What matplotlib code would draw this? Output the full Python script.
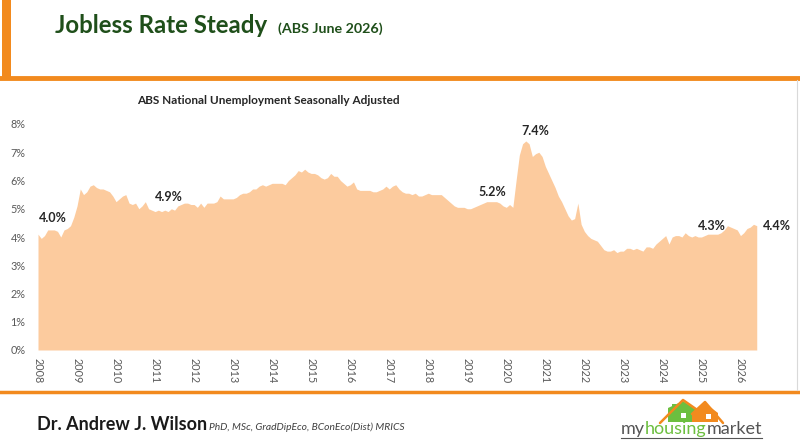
import matplotlib
matplotlib.use('Agg')
import matplotlib.pyplot as plt
import numpy as np
from matplotlib.patches import Rectangle, Polygon
from matplotlib.lines import Line2D

plt.rcParams['font.family'] = ['Lato', 'DejaVu Sans']

# Monthly unemployment rate (%), seasonally adjusted, Jan 2008 - Jun 2026
rate_2008 = [4.1, 3.95, 4.05, 4.25, 4.25, 4.25, 4.2, 4.0, 4.25, 4.3, 4.4, 4.7]
rate_2009 = [5.1, 5.7, 5.5, 5.6, 5.8, 5.85, 5.75, 5.7, 5.7, 5.65, 5.6, 5.45]
rate_2010 = [5.25, 5.35, 5.45, 5.5, 5.2, 5.15, 5.2, 5.0, 5.1, 5.25, 5.0, 4.95]
rate_2011 = [4.9, 4.95, 4.9, 4.95, 4.9, 5.0, 4.95, 5.1, 5.15, 5.2, 5.2, 5.15]
rate_2012 = [5.15, 5.05, 5.2, 5.05, 5.2, 5.2, 5.2, 5.25, 5.45, 5.35, 5.35, 5.35]
rate_2013 = [5.35, 5.4, 5.5, 5.55, 5.55, 5.6, 5.7, 5.7, 5.8, 5.85, 5.8, 5.85]
rate_2014 = [5.9, 5.9, 5.9, 5.9, 5.85, 6.0, 6.1, 6.2, 6.35, 6.3, 6.4, 6.3]
rate_2015 = [6.25, 6.25, 6.2, 6.1, 6.05, 6.1, 6.25, 6.15, 6.15, 6.0, 5.9, 5.8]
rate_2016 = [5.85, 5.95, 5.7, 5.65, 5.65, 5.65, 5.65, 5.6, 5.6, 5.65, 5.7, 5.8]
rate_2017 = [5.7, 5.8, 5.85, 5.7, 5.6, 5.55, 5.55, 5.5, 5.55, 5.45, 5.45, 5.5]
rate_2018 = [5.55, 5.5, 5.5, 5.5, 5.5, 5.4, 5.3, 5.2, 5.1, 5.05, 5.05, 5.05]
rate_2019 = [5.0, 5.0, 5.05, 5.1, 5.15, 5.2, 5.25, 5.25, 5.25, 5.25, 5.2, 5.1]
rate_2020 = [5.05, 5.15, 5.05, 6.0, 6.9, 7.3, 7.4, 7.3, 6.85, 6.95, 7.0, 6.85]
rate_2021 = [6.5, 6.25, 6.0, 5.75, 5.45, 5.25, 5.0, 4.75, 4.6, 4.65, 5.2, 4.45]
rate_2022 = [4.2, 4.05, 3.95, 3.9, 3.85, 3.7, 3.55, 3.5, 3.5, 3.55, 3.45, 3.5]
rate_2023 = [3.5, 3.6, 3.6, 3.55, 3.6, 3.55, 3.5, 3.65, 3.65, 3.6, 3.75, 3.85]
rate_2024 = [3.95, 4.05, 3.75, 4.0, 4.05, 4.05, 4.0, 4.15, 4.05, 4.0, 4.05, 4.0]
rate_2025 = [4.0, 4.05, 4.1, 4.1, 4.1, 4.1, 4.15, 4.25, 4.4, 4.35, 4.3, 4.25]
rate_2026 = [4.05, 4.15, 4.3, 4.35, 4.45, 4.4]

years = list(range(2008, 2027))
year_labels = [str(y) for y in years]

# call-out labels and where they sit (data coords)
callouts = ['4.0%', '4.9%', '5.2%', '7.4%', '4.3%', '4.4%']
callout_x = [2008.38, 2011.35, 2019.65, 2020.75, 2025.26, 2026.92]
callout_y = [4.67, 5.42, 5.59, 7.75, 4.39, 4.39]

rate = (rate_2008 + rate_2009 + rate_2010 + rate_2011 + rate_2012 + rate_2013
        + rate_2014 + rate_2015 + rate_2016 + rate_2017 + rate_2018 + rate_2019
        + rate_2020 + rate_2021 + rate_2022 + rate_2023 + rate_2024 + rate_2025
        + rate_2026)
t = 2008 + np.arange(len(rate)) / 12

W, H = 800, 443
fig = plt.figure(figsize=(W / 100, H / 100), dpi=100)
fig.patch.set_facecolor('white')

def fx(x):
    return x / W

def fy(y):
    return 1 - y / H

orange = '#F28A1E'
green_dark = '#1F4F1A'
logo_green = '#6CBF3F'

# frame decorations
fig.add_artist(Rectangle((fx(2), fy(78)), fx(9), 78 / H, color=orange, lw=0))
fig.add_artist(Line2D([0, 1], [fy(78), fy(78)], color=orange, lw=3.5))
fig.add_artist(Line2D([0, 1], [fy(392), fy(392)], color=orange, lw=2.5))
fig.add_artist(Line2D([fx(797), fx(797)], [fy(80), fy(390)], color='#D9D9D9', lw=0.8))

# titles
fig.text(fx(55), fy(33), 'Jobless Rate Steady', fontsize=17.3, fontweight='bold',
         color=green_dark, va='baseline')
fig.text(fx(278), fy(33), '(ABS June 2026)', fontsize=10.3, fontweight='bold',
         color=green_dark, va='baseline')
fig.text(fx(268), fy(100), 'ABS National Unemployment Seasonally Adjusted',
         fontsize=8.5, fontweight='bold', color='#262626', ha='center', va='center')

# chart
ax = fig.add_axes([fx(38), fy(350), 722 / W, 226 / H])
ax.fill_between(t, rate, 0, color='#FCCB9E', lw=0)
ax.set_xlim(2008, 2026.5)
ax.set_ylim(0, 8)
ax.set_yticks(range(0, 9))
ax.set_yticklabels([f'{v}%' for v in range(0, 9)])
ax.set_xticks(years)
ax.set_xticklabels(year_labels, rotation=-90)
ax.tick_params(length=0, labelsize=7.8, labelcolor='#595959')
ax.tick_params(axis='y', pad=9)
ax.tick_params(axis='x', pad=6)
for s in ax.spines.values():
    s.set_visible(False)

for txt, x, y in zip(callouts, callout_x, callout_y):
    ax.text(x, y, txt, fontsize=9, fontweight='bold', color='#262626',
            ha='center', va='center', clip_on=False)

# footer
fig.text(fx(37), fy(430), 'Dr. Andrew J. Wilson', fontsize=13, fontweight='bold',
         color='#1A1A1A', va='baseline')
fig.text(fx(209), fy(430), 'PhD, MSc, GradDipEco, BConEco(Dist) MRICS', fontsize=7.4,
         style='italic', color='#404040', va='baseline')

# logo
def poly(pts, **kw):
    fig.add_artist(Polygon([(fx(a), fy(b)) for a, b in pts], closed=True, **kw))

poly([(668, 422), (668, 408), (683, 401), (700, 412), (700, 422)], color=logo_green, lw=0)
poly([(672, 410), (672, 404), (676, 404), (676, 408)], color=logo_green, lw=0)
poly([(692, 422), (692, 413), (705, 403), (718, 413), (718, 422)], color=orange, lw=0)
fig.add_artist(Line2D([fx(660), fx(683), fx(703)], [fy(423), fy(400), fy(414)],
                      color=orange, lw=1.8, solid_capstyle='round'))
fig.add_artist(Line2D([fx(692), fx(705), fx(723)], [fy(414), fy(402), fy(423)],
                      color=orange, lw=1.8, solid_capstyle='round'))
for wx, wy in [(681, 413), (706, 414)]:
    fig.add_artist(Rectangle((fx(wx), fy(wy + 5)), 5 / W, 5 / H, color='white', lw=0))

fig.canvas.draw()
r = fig.canvas.get_renderer()
x0 = 621
for word, col in [('my', '#555555'), ('housing', logo_green), ('market', '#555555')]:
    tt = fig.text(fx(x0), fy(434), word, fontsize=13, color=col, va='baseline')
    x0 += tt.get_window_extent(r).width
fig.add_artist(Line2D([fx(621), fx(x0)], [fy(437.5), fy(437.5)], color='#555555', lw=0.8))

fig.savefig('out.png', dpi=100)
